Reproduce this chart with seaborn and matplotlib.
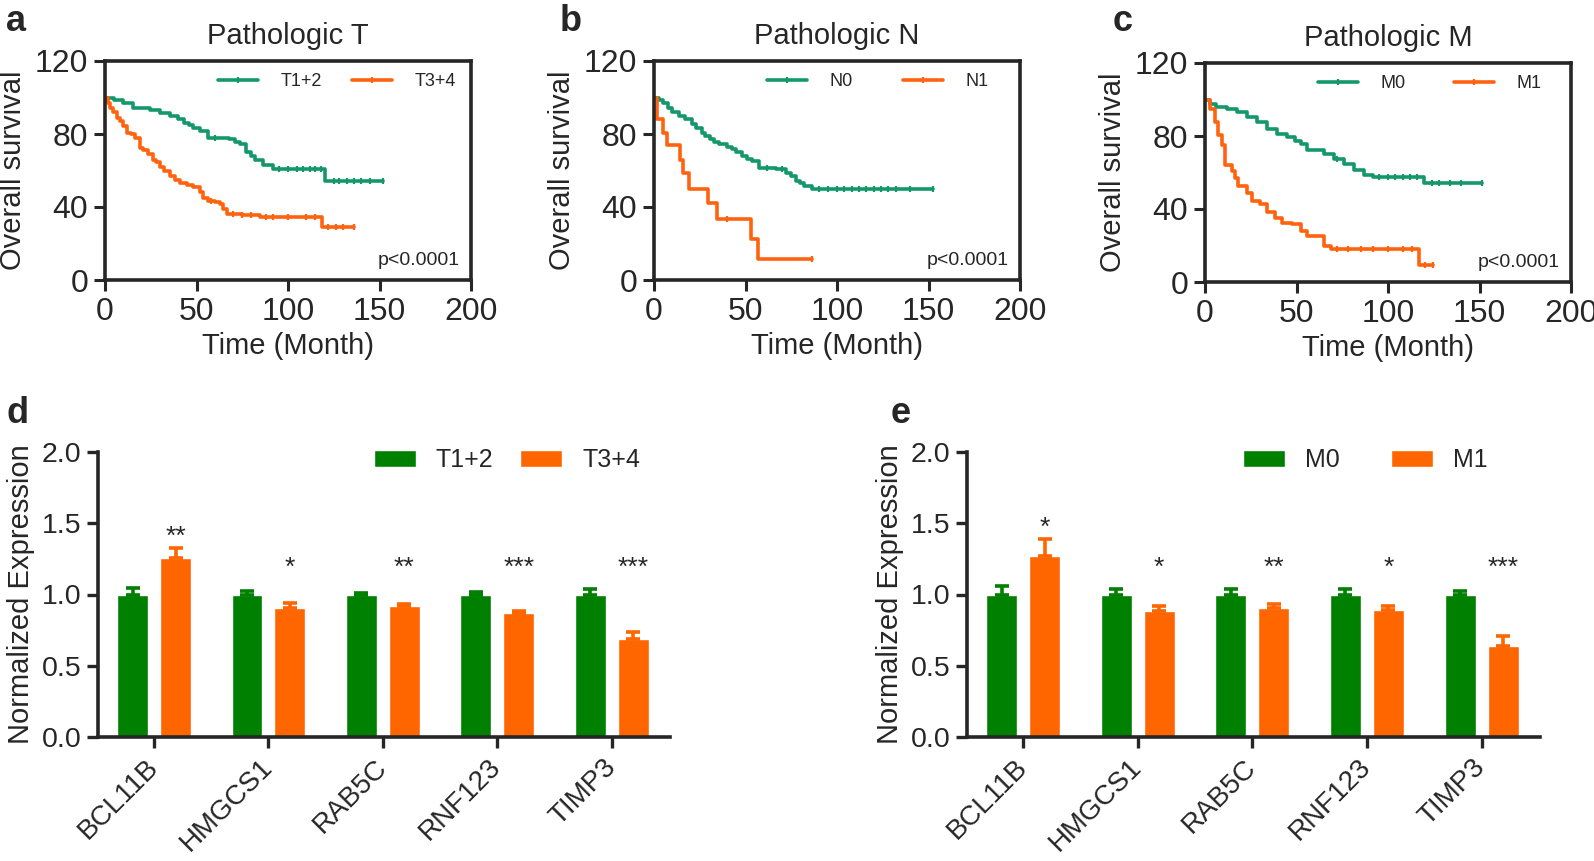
import numpy as np
import pandas as pd
import matplotlib
matplotlib.use('Agg')
import matplotlib.pyplot as plt
from matplotlib.lines import Line2D
import seaborn as sns

# Kaplan-Meier curves (time in months, survival in %)
t12_time = [0, 5, 10, 15.5, 20, 24.6, 30, 35.5, 40, 43, 46, 48, 52, 56.5, 68, 71, 74, 77, 80, 82, 86.5, 92, 120, 151.7]
t12_surv = [100, 98.5, 97, 94.5, 94, 93, 91.5, 90, 88, 86, 85, 83.5, 81.7, 78, 77, 75.5, 74.4, 70, 68, 66, 63, 60.7, 54.3, 54.3]
t12_cens = [60, 95, 100, 105, 108, 112, 115, 118, 125, 128, 132, 136, 140, 145, 151.7]
t34_time = [0, 1.5, 2.7, 4.5, 6.4, 8, 10, 12, 14, 16.4, 19, 21, 23.7, 26, 28, 30, 32, 35.5, 38, 41, 45, 48, 52, 53.7,
            56.5, 60, 63, 64.7, 66.5, 75, 84.7, 118.4, 136]
t34_surv = [100, 97, 94.5, 92, 89, 87, 84.4, 80.8, 80, 78, 72.6, 71, 69, 66, 64.4, 62, 59.8, 57, 55, 53.4, 52, 50.7, 48, 45,
            43.4, 42.5, 41.6, 38.8, 36, 35.5, 34.3, 28.8, 28.8]
t34_cens = [58, 70, 75, 80, 88, 92, 100, 110, 115, 122, 126, 130, 136]

n0_time = [0, 3, 5, 7.9, 10, 13.4, 17, 20.7, 23, 26, 28, 30.7, 33, 35.3, 40, 42.6, 45, 48, 51, 53.6, 57.3, 66.4, 72, 75,
           77.4, 80, 82, 86.5, 152.4]
n0_surv = [100, 98.5, 97, 94.5, 92, 90, 88, 85.4, 83.5, 80.8, 79, 77, 75.5, 74.4, 73, 71.7, 70, 68, 66.5, 65.3, 61.6, 60.7,
           58.9, 57, 54.3, 53, 51.6, 49.8, 49.8]
n0_cens = [62, 70, 90, 95, 100, 104, 108, 112, 116, 120, 124, 128, 132, 140, 152.4]
n1_time = [0, 1.5, 5, 7, 14.3, 15.6, 19.2, 29.5, 34.4, 53.2, 56.9, 86.2]
n1_surv = [100, 88, 80.8, 74, 65.7, 58.4, 49.8, 42, 33.4, 22.4, 11.5, 11.5]
n1_cens = [40, 86.2]

m0_time = [0, 2.7, 6, 11.9, 17.4, 22.9, 28.4, 33.9, 39.4, 44.9, 49, 52.2, 55.9, 65, 70.5, 76, 81.5, 87, 91.6, 119.6, 151.5]
m0_surv = [100, 97.4, 96, 94.7, 92.9, 90.2, 87.5, 83.9, 81.2, 79.4, 77.5, 75.8, 72.1, 70.3, 67.6, 64.9, 61.3, 58.5, 57.7,
           54.3, 54.3]
m0_cens = [72, 95, 100, 104, 108, 112, 116, 124, 128, 134, 140, 151.5]
m1_time = [0, 2.7, 5.5, 7.3, 9.2, 11, 14.7, 16.5, 18.3, 22.9, 25.6, 30.2, 33.9, 38.5, 42.1, 47.6, 52.2, 55.9, 65, 68.7,
           117.2, 124.5]
m1_surv = [100, 94.7, 87.5, 80.3, 75, 64.2, 60.6, 57, 52.4, 49, 44.4, 42.6, 38.1, 35.3, 32.6, 31.7, 28.1, 25.3, 19.9, 18.1,
           9.1, 9.1]
m1_cens = [72, 78, 85, 92, 100, 108, 113, 120, 124.5]

# Bar panels: normalized expression (mean, SEM)
genes = ['BCL11B', 'HMGCS1', 'RAB5C', 'RNF123', 'TIMP3']
d_low = [1.0, 1.0, 1.0, 1.0, 1.0]
d_low_err = [0.045, 0.025, 0.012, 0.02, 0.04]
d_high = [1.255, 0.905, 0.92, 0.87, 0.69]
d_high_err = [0.07, 0.035, 0.015, 0.015, 0.045]
d_stars = ['**', '*', '**', '***', '***']
e_low = [1.0, 1.0, 1.0, 1.0, 1.0]
e_low_err = [0.06, 0.04, 0.04, 0.04, 0.025]
e_high = [1.27, 0.885, 0.905, 0.89, 0.64]
e_high_err = [0.12, 0.035, 0.03, 0.03, 0.07]
e_stars = ['*', '*', '**', '*', '***']

km_green = '#14986A'
km_orange = '#FF630F'
bar_green = '#008000'
bar_orange = '#FF6600'

sns.set_style('ticks')
plt.rcParams['font.family'] = ['Liberation Sans', 'DejaVu Sans']

fig = plt.figure(figsize=(15.94, 8.61), dpi=100)
W, H = 1594, 861


def px_axes(left, top, right, bottom):
    return fig.add_axes([left / W, 1 - bottom / H, (right - left) / W, (bottom - top) / H])


def step_at(times, surv, ct):
    idx = np.searchsorted(times, ct, side='right') - 1
    return np.array(surv)[idx]


def km_panel(ax, title, curves, labels, colspace):
    for (times, surv, cens), color in zip(curves, [km_green, km_orange]):
        sns.lineplot(x=times, y=surv, drawstyle='steps-post', color=color, linewidth=2.6, ax=ax)
        ax.plot(cens, step_at(times, surv, cens), linestyle='none', marker='|', markersize=5,
                markeredgewidth=1.6, color=color)
    ax.set_xlim(0, 200)
    ax.set_ylim(0, 120)
    ax.set_xticks([0, 50, 100, 150, 200])
    ax.set_yticks([0, 40, 80, 120])
    ax.set_xlabel('Time (Month)', fontsize=21)
    ax.set_ylabel('Overall survival', fontsize=21, labelpad=6)
    ax.set_title(title, fontsize=21, pad=12)
    ax.tick_params(labelsize=23, width=2.2, length=8, pad=4)
    for s in ax.spines.values():
        s.set_linewidth(2.6)
    handles = [Line2D([0, 0.5, 1], [0, 0, 0], color=c, linewidth=2.6, marker='|', markersize=5, markevery=[1],
                      markeredgewidth=1.6) for c in [km_green, km_orange]]
    ax.legend(handles, labels, loc='center left', bbox_to_anchor=(0.309, 0.905), ncol=2, frameon=False,
              fontsize=13, handlelength=2.2, handletextpad=1.25, columnspacing=colspace,
              borderaxespad=0, borderpad=0)
    ax.text(0.97, 0.09, 'p<0.0001', transform=ax.transAxes, ha='right', va='center', fontsize=14)


ax_a = px_axes(105, 61, 471, 280)
km_panel(ax_a, 'Pathologic T', [(t12_time, t12_surv, t12_cens), (t34_time, t34_surv, t34_cens)],
         ['T1+2', 'T3+4'], 1.7)
ax_b = px_axes(654, 61, 1020, 280)
km_panel(ax_b, 'Pathologic N', [(n0_time, n0_surv, n0_cens), (n1_time, n1_surv, n1_cens)], ['N0', 'N1'], 2.8)
ax_c = px_axes(1205, 63, 1571, 282)
km_panel(ax_c, 'Pathologic M', [(m0_time, m0_surv, m0_cens), (m1_time, m1_surv, m1_cens)], ['M0', 'M1'], 2.7)


def bar_panel(ax, low, low_err, high, high_err, stars, labels, colspace):
    df = pd.DataFrame({'gene': genes * 2, 'group': [labels[0]] * 5 + [labels[1]] * 5,
                       'value': low + high})
    sns.barplot(data=df, x='gene', y='value', hue='group', palette=[bar_green, bar_orange],
                width=0.75, gap=0.28, errorbar=None, ax=ax, saturation=1)
    errs = [low_err, high_err]
    tops = []
    for cont, err, col in zip(ax.containers, errs, [bar_green, bar_orange]):
        xs = [p.get_x() + p.get_width() / 2 for p in cont.patches]
        ys = [p.get_height() for p in cont.patches]
        ax.errorbar(xs, ys, yerr=[np.zeros(len(err)), err], fmt='none', ecolor=col,
                    elinewidth=2.6, capsize=4.8, capthick=2.6)
        tops.append((xs, [y + e for y, e in zip(ys, err)]))
    for i, s in enumerate(stars):
        x = tops[1][0][i]
        y = max(max(tops[0][1][i], tops[1][1][i]) + 0.14, 1.25)
        ax.text(x, y - 0.11, s, ha='center', va='baseline', fontsize=19)
    ax.set_ylim(0, 2.0)
    ax.set_xlim(-0.49, 4.51)
    ax.set_yticks([0, 0.5, 1.0, 1.5, 2.0])
    ax.set_yticklabels(['0.0', '0.5', '1.0', '1.5', '2.0'])
    ax.set_xlabel('')
    ax.set_ylabel('Normalized Expression', fontsize=21, labelpad=5)
    ax.tick_params(axis='y', labelsize=20.5, width=2.4, length=8, pad=4)
    ax.tick_params(axis='x', labelsize=20, width=2.4, length=8, pad=11)
    plt.setp(ax.get_xticklabels(), rotation=45, ha='right', va='center', rotation_mode='anchor')
    sns.despine(ax=ax)
    for s in ['left', 'bottom']:
        ax.spines[s].set_linewidth(2.6)
    ax.legend(loc='center left', bbox_to_anchor=(0.482, 0.972), ncol=2, frameon=False, fontsize=18,
              handlelength=1.68, handleheight=0.68, handletextpad=0.8, columnspacing=colspace,
              borderaxespad=0, borderpad=0)


ax_d = px_axes(98, 452, 670, 737)
bar_panel(ax_d, d_low, d_low_err, d_high, d_high_err, d_stars, ['T1+2', 'T3+4'], 1.08)
ax_e = px_axes(967, 452, 1540, 737)
bar_panel(ax_e, e_low, e_low_err, e_high, e_high_err, e_stars, ['M0', 'M1'], 2.04)

for letter, x, y in [('a', 6, 4), ('b', 560, 4), ('c', 1113, 4), ('d', 6, 396), ('e', 891, 396)]:
    fig.text(x / W, 1 - y / H, letter, fontsize=26, fontweight='bold', va='top', ha='left')

fig.savefig('out.png', dpi=100)
